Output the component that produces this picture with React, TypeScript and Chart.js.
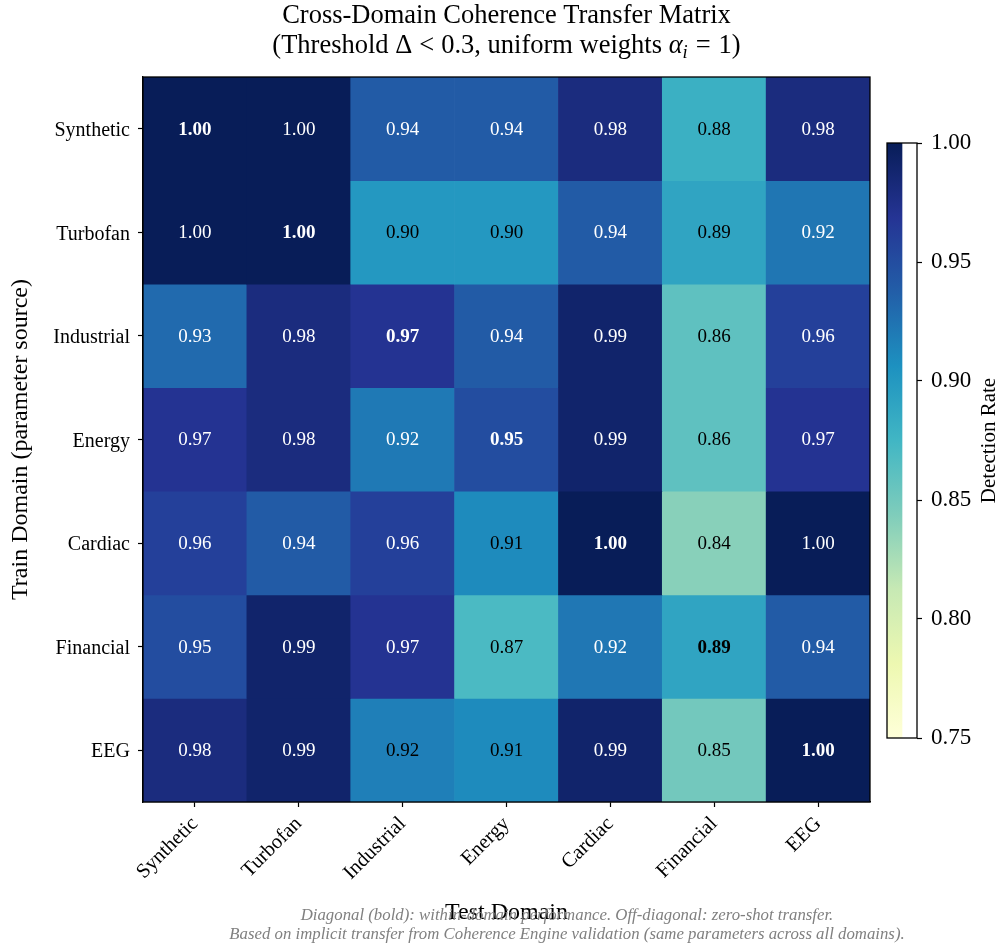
import React, { useEffect, useRef } from 'react';
import { Chart, registerables } from 'chart.js';

Chart.register(...registerables);

// ---------- data ----------
const testDomains = ['Synthetic', 'Turbofan', 'Industrial', 'Energy', 'Cardiac', 'Financial', 'EEG'];
const trainDomains = ['Synthetic', 'Turbofan', 'Industrial', 'Energy', 'Cardiac', 'Financial', 'EEG'];

const rowSynthetic = [1.0, 1.0, 0.94, 0.94, 0.98, 0.88, 0.98];
const rowTurbofan = [1.0, 1.0, 0.9, 0.9, 0.94, 0.89, 0.923];
const rowIndustrial = [0.93, 0.98, 0.97, 0.94, 0.99, 0.86, 0.96];
const rowEnergy = [0.97, 0.98, 0.921, 0.95, 0.99, 0.86, 0.97];
const rowCardiac = [0.96, 0.94, 0.96, 0.91, 1.0, 0.84, 1.0];
const rowFinancial = [0.95, 0.99, 0.97, 0.87, 0.922, 0.89, 0.94];
const rowEEG = [0.98, 0.99, 0.917, 0.91, 0.99, 0.85, 1.0];
const matrix = [rowSynthetic, rowTurbofan, rowIndustrial, rowEnergy, rowCardiac, rowFinancial, rowEEG];

const colorbarTicks = [0.75, 0.8, 0.85, 0.9, 0.95, 1.0];
const vmin = 0.75;
const vmax = 1.0;
const textThreshold = 0.92;

const titleLine1 = 'Cross-Domain Coherence Transfer Matrix';
const titleLine2Parts = ['(Threshold ', 'Δ', '<', '0.3', ', uniform weights ', 'α', 'i', '=', '1', ')'];
const xTitle = 'Test Domain';
const yTitle = 'Train Domain (parameter source)';
const cbarTitle = 'Detection Rate';
const footnotes = [
  'Diagonal (bold): within-domain performance. Off-diagonal: zero-shot transfer.',
  'Based on implicit transfer from Coherence Engine validation (same parameters across all domains).',
];

// YlGnBu colormap anchors
const YLGNBU = ['#ffffd9', '#edf8b1', '#c7e9b4', '#7fcdbb', '#41b6c4', '#1d91c0', '#225ea8', '#253494', '#081d58'];

const SERIF = '"Liberation Serif", "Times New Roman", serif';

function hexToRgb(h: string) {
  const n = parseInt(h.slice(1), 16);
  return [(n >> 16) & 255, (n >> 8) & 255, n & 255];
}
function cmap(v: number) {
  let t = (v - vmin) / (vmax - vmin);
  t = Math.max(0, Math.min(1, t));
  const p = t * (YLGNBU.length - 1);
  const i = Math.min(Math.floor(p), YLGNBU.length - 2);
  const f = p - i;
  const a = hexToRgb(YLGNBU[i]);
  const b = hexToRgb(YLGNBU[i + 1]);
  const c = a.map((x, k) => Math.round(x + (b[k] - x) * f));
  return `rgb(${c[0]},${c[1]},${c[2]})`;
}

export default function App() {
  const mainRef = useRef<HTMLCanvasElement>(null);
  const cbRef = useRef<HTMLCanvasElement>(null);

  useEffect(() => {
    const cellLabels = {
      id: 'cellLabels',
      afterDatasetsDraw(chart: any) {
        const ctx = chart.ctx;
        ctx.save();
        ctx.textAlign = 'center';
        ctx.textBaseline = 'middle';
        matrix.forEach((row, r) => {
          const meta = chart.getDatasetMeta(r);
          row.forEach((v, c) => {
            const el = meta.data[c];
            const cx = el.x;
            const cy = (el.y + el.base) / 2;
            ctx.font = `${r === c ? 'bold ' : ''}19px ${SERIF}`;
            ctx.fillStyle = v > textThreshold ? '#ffffff' : '#000000';
            ctx.fillText(v.toFixed(2), cx, cy + 1);
          });
        });
        ctx.restore();
      },
    };

    const frame = {
      id: 'frame',
      afterDraw(chart: any) {
        const ctx = chart.ctx;
        const a = chart.chartArea;
        ctx.save();
        ctx.strokeStyle = '#000';
        ctx.lineWidth = 1.3;
        ctx.strokeRect(a.left, a.top, a.right - a.left, a.bottom - a.top);

        // title
        const cx = (a.left + a.right) / 2;
        ctx.fillStyle = '#000';
        ctx.textBaseline = 'alphabetic';
        ctx.textAlign = 'center';
        ctx.font = `26.5px ${SERIF}`;
        ctx.fillText(titleLine1, cx, 23);
        // second line with math-like pieces
        const fNorm = `26.5px ${SERIF}`;
        const fIt = `italic 26.5px ${SERIF}`;
        const fSub = `italic 18.5px ${SERIF}`;
        const P = titleLine2Parts;
        const pieces: { t: string; f: string; dy: number; gap: number }[] = [
          { t: P[0], f: fNorm, dy: 0, gap: 0 },
          { t: P[1], f: fNorm, dy: 0, gap: 7 },
          { t: P[2], f: fNorm, dy: 0, gap: 7 },
          { t: P[3], f: fNorm, dy: 0, gap: 0 },
          { t: P[4], f: fNorm, dy: 0, gap: 0 },
          { t: P[5], f: fIt, dy: 0, gap: 0 },
          { t: P[6], f: fSub, dy: 5, gap: 8 },
          { t: P[7], f: fNorm, dy: 0, gap: 8 },
          { t: P[8], f: fNorm, dy: 0, gap: 0 },
          { t: P[9], f: fNorm, dy: 0, gap: 0 },
        ];
        let total = 0;
        pieces.forEach((p) => {
          ctx.font = p.f;
          total += ctx.measureText(p.t).width + p.gap;
        });
        let x = cx - total / 2;
        const by = 53;
        ctx.textAlign = 'left';
        pieces.forEach((p) => {
          ctx.font = p.f;
          ctx.fillText(p.t, x, by + p.dy);
          x += ctx.measureText(p.t).width + p.gap;
        });

        // footnotes
        ctx.textAlign = 'center';
        ctx.fillStyle = '#808080';
        ctx.font = `italic 16.8px ${SERIF}`;
        ctx.fillText(footnotes[0], 567, 920);
        ctx.fillText(footnotes[1], 567, 939);
        ctx.restore();
      },
    };

    const main = new Chart(mainRef.current as HTMLCanvasElement, {
      type: 'bar',
      data: {
        labels: testDomains,
        datasets: trainDomains.map((name, r) => ({
          label: name,
          data: matrix[r].map(() => [r - 0.5, r + 0.5]),
          backgroundColor: matrix[r].map((v) => cmap(v)),
          borderWidth: 0,
          barPercentage: 1,
          categoryPercentage: 1,
          grouped: false,
        })) as any,
      },
      options: {
        responsive: false,
        animation: false,
        devicePixelRatio: 1,
        layout: { padding: { left: 0, right: 131, top: 77, bottom: 0 } },
        plugins: {
          legend: { display: false },
          tooltip: { enabled: false },
          title: { display: false },
        },
        scales: {
          x: {
            type: 'category',
            offset: true,
            grid: {
              display: true,
              offset: false,
              drawOnChartArea: false,
              drawTicks: true,
              tickLength: 5,
              tickWidth: 1.2,
              tickColor: '#000',
            },
            border: { display: true, color: '#000', width: 1.3 },
            ticks: {
              color: '#000',
              font: { family: SERIF, size: 20.5 },
              maxRotation: 45,
              minRotation: 45,
              padding: 5,
              autoSkip: false,
            },
            title: {
              display: true,
              text: xTitle,
              color: '#000',
              font: { family: SERIF, size: 24 },
              padding: { top: 0, bottom: 20 },
            },
            afterFit: (s: any) => {
              s.height = 145;
            },
          },
          y: {
            type: 'linear',
            reverse: true,
            min: -0.5,
            max: 6.5,
            afterBuildTicks: (s: any) => {
              s.ticks = trainDomains.map((_, i) => ({ value: i }));
            },
            grid: { display: true, drawOnChartArea: false, drawTicks: true, tickLength: 5, tickWidth: 1.2, tickColor: '#000' },
            border: { display: true, color: '#000', width: 1.3 },
            ticks: {
              color: '#000',
              font: { family: SERIF, size: 20 },
              padding: 8,
              labelOffset: 2,
              callback: (v: any) => trainDomains[v as number],
            },
            title: {
              display: true,
              text: yTitle,
              color: '#000',
              font: { family: SERIF, size: 24 },
              padding: { top: 6, bottom: 0 },
            },
            afterFit: (s: any) => {
              s.width = 143;
            },
          },
        },
      } as any,
      plugins: [cellLabels, frame],
    });

    const cbFrame = {
      id: 'cbFrame',
      afterDraw(chart: any) {
        const ctx = chart.ctx;
        const a = chart.chartArea;
        ctx.save();
        ctx.strokeStyle = '#000';
        ctx.lineWidth = 1.3;
        ctx.strokeRect(a.left, a.top, a.right - a.left, a.bottom - a.top);
        ctx.translate(129, (a.top + a.bottom) / 2);
        ctx.rotate(-Math.PI / 2);
        ctx.textAlign = 'center';
        ctx.textBaseline = 'middle';
        ctx.fillStyle = '#000';
        ctx.font = `21px ${SERIF}`;
        ctx.fillText(cbarTitle, 0, 0);
        ctx.restore();
      },
    };

    const cb = new Chart(cbRef.current as HTMLCanvasElement, {
      type: 'bar',
      data: {
        labels: [''],
        datasets: [
          {
            data: [[vmin, vmax]] as any,
            backgroundColor: (c: any) => {
              const chart = c.chart;
              const a = chart.chartArea;
              if (!a) return YLGNBU[YLGNBU.length - 1];
              const g = chart.ctx.createLinearGradient(0, a.bottom, 0, a.top);
              YLGNBU.forEach((col, i) => g.addColorStop(i / (YLGNBU.length - 1), col));
              return g;
            },
            borderWidth: 0,
            barPercentage: 1,
            categoryPercentage: 1,
          },
        ],
      },
      options: {
        responsive: false,
        animation: false,
        devicePixelRatio: 1,
        layout: { padding: { left: 27, right: 0, top: 33, bottom: 32 } },
        plugins: { legend: { display: false }, tooltip: { enabled: false } },
        scales: {
          x: { display: false, offset: false },
          y: {
            position: 'right',
            min: vmin,
            max: vmax,
            afterBuildTicks: (s: any) => {
              s.ticks = colorbarTicks.map((v) => ({ value: v }));
            },
            grid: { display: true, drawOnChartArea: false, drawTicks: true, tickLength: 5, tickWidth: 1.2, tickColor: '#000' },
            border: { display: false },
            ticks: {
              color: '#000',
              font: { family: SERIF, size: 23 },
              padding: 9,
              callback: (v: any) => Number(v).toFixed(2),
            },
            afterFit: (s: any) => {
              s.width = 84;
            },
          },
        },
      } as any,
      plugins: [cbFrame],
    });

    return () => {
      main.destroy();
      cb.destroy();
    };
  }, []);

  return (
    <div style={{ position: 'absolute', left: 0, top: 0, width: 1001, height: 947, background: '#fff' }}>
      <canvas ref={mainRef} width={1001} height={947} style={{ position: 'absolute', left: 0, top: 0, width: 1001, height: 947 }} />
      <canvas ref={cbRef} width={141} height={660} style={{ position: 'absolute', left: 860, top: 110, width: 141, height: 660 }} />
    </div>
  );
}
